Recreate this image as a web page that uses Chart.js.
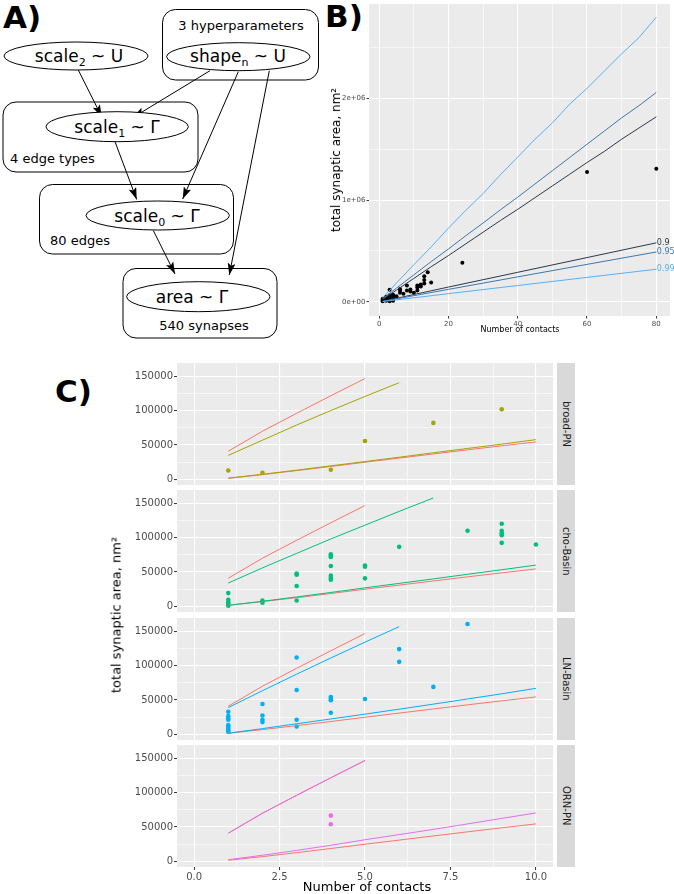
<!DOCTYPE html>
<html>
<head>
<meta charset="utf-8">
<script src="https://cdn.jsdelivr.net/npm/chart.js@4.4.0/dist/chart.umd.min.js"></script>
<style>
  body { margin: 0; background: #fff; }
  #page { position: relative; width: 674px; height: 894px; overflow: hidden; font-family: "DejaVu Sans", sans-serif; }
  .tag { position: absolute; font-weight: bold; font-size: 31px; line-height: 31px; }
  .strip { position: absolute; left: 557px; width: 18px; height: 122px; background: #d9d9d9; color: #1a1a1a;
           font-size: 10px; display: flex; align-items: center; justify-content: center; }
  .strip span { writing-mode: vertical-rl; white-space: nowrap; }
  .title { position: absolute; white-space: nowrap; color: #000; transform: translate(-50%, -50%); }
  .rot { transform: translate(-50%, -50%) rotate(-90deg); }
  canvas { position: absolute; }
</style>
</head>
<body>
<div id="page">

<!-- panel A: model diagram -->
<svg width="330" height="345" style="position:absolute;left:0;top:0" font-family="DejaVu Sans" fill="none" stroke="#000">
  <defs>
    <marker id="ah" markerWidth="12" markerHeight="8" refX="12" refY="4" orient="auto" markerUnits="userSpaceOnUse">
      <path d="M0,0 L12,4 L0,8 L2.5,4 z" fill="#000" stroke="none"/>
    </marker>
  </defs>
  <rect x="162.5" y="9.5" width="156" height="70.5" rx="13" stroke-width="1"/>
  <rect x="3" y="102" width="195" height="70" rx="13" stroke-width="1"/>
  <rect x="39.5" y="184.5" width="194" height="69.5" rx="13" stroke-width="1"/>
  <rect x="123" y="268.5" width="154" height="69.5" rx="13" stroke-width="1"/>

  <g stroke-width="1" marker-end="url(#ah)">
    <line x1="78.3" y1="70" x2="101.7" y2="116.7"/>
    <line x1="210" y1="70.7" x2="133.3" y2="117.3"/>
    <line x1="238.3" y1="71.7" x2="182.7" y2="199"/>
    <line x1="269.3" y1="70.7" x2="229.3" y2="275"/>
    <line x1="115" y1="141.7" x2="136.7" y2="199.5"/>
    <line x1="153.3" y1="230.5" x2="175" y2="274"/>
  </g>

  <g fill="#fff" stroke-width="1">
    <ellipse cx="76" cy="56" rx="72" ry="14"/>
    <ellipse cx="238.3" cy="56.7" rx="71.7" ry="14"/>
    <ellipse cx="117.2" cy="126.7" rx="71.2" ry="15"/>
    <ellipse cx="157.7" cy="215.5" rx="71.7" ry="14.5"/>
    <ellipse cx="198.3" cy="296.7" rx="71.7" ry="15"/>
  </g>

  <g fill="#000" stroke="none" font-size="17" text-anchor="middle">
    <text x="79" y="62">scale<tspan font-size="11" dy="4">2</tspan><tspan dy="-4"> ~ U</tspan></text>
    <text x="238" y="62">shape<tspan font-size="11" dy="4">n</tspan><tspan dy="-4"> ~ U</tspan></text>
    <text x="117" y="133">scale<tspan font-size="11" dy="4">1</tspan><tspan dy="-4"> ~ Γ</tspan></text>
    <text x="157" y="222">scale<tspan font-size="11" dy="4">0</tspan><tspan dy="-4"> ~ Γ</tspan></text>
    <text x="192" y="303">area ~ Γ</text>
  </g>
  <g fill="#000" stroke="none" font-size="13">
    <text x="241" y="30" text-anchor="middle">3 hyperparameters</text>
    <text x="10" y="163">4 edge types</text>
    <text x="50" y="245">80 edges</text>
    <text x="204" y="330" text-anchor="middle">540 synapses</text>
  </g>
</svg>

<div class="tag" style="left:3px;top:2px">A)</div>
<div class="tag" style="left:325px;top:1px">B)</div>
<div class="tag" style="left:55px;top:376px">C)</div>

<!-- panel B -->
<canvas id="cb" width="344" height="340" style="left:330px;top:0px"></canvas>
<div class="title rot" style="left:336px;top:160px;font-size:12px">total synaptic area, nm²</div>
<div class="title" style="left:520px;top:329px;font-size:8px">Number of contacts</div>

<!-- panel C -->
<canvas id="c0" width="457" height="142" style="left:100px;top:353px"></canvas>
<canvas id="c1" width="457" height="142" style="left:100px;top:480px"></canvas>
<canvas id="c2" width="457" height="142" style="left:100px;top:608px"></canvas>
<canvas id="c3" width="457" height="159" style="left:100px;top:735px"></canvas>
<div class="strip" style="top:363px"><span>broad-PN</span></div>
<div class="strip" style="top:490px"><span>cho-Basin</span></div>
<div class="strip" style="top:618px"><span>LN-Basin</span></div>
<div class="strip" style="top:745px"><span>ORN-PN</span></div>
<div class="title rot" style="left:116px;top:615px;font-size:13px">total synaptic area, nm²</div>
<div class="title" style="left:367px;top:886px;font-size:13px">Number of contacts</div>

</div>

<script>
// ---------- panel B data ----------
const bUpX  = [1, 5, 10, 15, 20, 25, 30, 35, 40, 45, 50, 55, 60, 65, 70, 75, 80];
const bUp99 = [40000, 185000, 365000, 540000, 725000, 900000, 1065000, 1250000, 1425000, 1600000, 1760000, 1945000, 2100000, 2270000, 2440000, 2600000, 2800000];
const bUp95 = [30000, 135000, 265000, 395000, 520000, 650000, 775000, 905000, 1030000, 1160000, 1290000, 1420000, 1550000, 1680000, 1810000, 1930000, 2060000];
const bUp90 = [25000, 115000, 230000, 345000, 455000, 570000, 685000, 800000, 910000, 1025000, 1140000, 1255000, 1370000, 1480000, 1600000, 1710000, 1820000];
const bLoX  = [1, 20, 40, 60, 80];
const bLo99 = [2500, 80000, 160000, 240000, 320000];
const bLo95 = [4000, 122000, 245000, 368000, 490000];
const bLo90 = [5000, 145000, 290000, 435000, 580000];
const bQuantiles = ['0.9', '0.95', '0.99'];
const bPtX = [1, 1, 1, 1, 2, 2, 2, 2, 3, 3, 3, 3, 3, 4, 4, 4, 4, 5, 6, 6, 6, 7, 8, 8, 9, 9, 10,
              11, 11, 11, 12, 12, 13, 13, 13, 14, 15, 24, 60, 80];
const bPtY = [5000, 12000, 20000, 30000, 10000, 25000, 40000, 50000, 5000, 30000, 50000, 65000, 118000,
              10000, 40000, 60000, 70000, 55000, 90000, 110000, 125000, 80000, 110000, 160000, 100000, 120000, 90000,
              110000, 140000, 160000, 150000, 170000, 180000, 215000, 250000, 290000, 190000, 385000, 1277000, 1310000];
const bXTicks = [0, 10, 20, 30, 40, 50, 60, 70, 80];
const bYTicks = [0, 500000, 1000000, 1500000, 2000000, 2500000];
const bYLabels = { 0: '0e+00', 1000000: '1e+06', 2000000: '2e+06' };

// ---------- panel C data ----------
const facets = ['broad-PN', 'cho-Basin', 'LN-Basin', 'ORN-PN'];
const contacts = [1, 2, 3, 4, 5, 6, 7, 8, 9, 10];
const cXTicks = [0, 1.25, 2.5, 3.75, 5, 6.25, 7.5, 8.75, 10];
const cYTicks = [0, 25000, 50000, 75000, 100000, 125000, 150000];

const refUp = [41000, 70000, 96000, 121500, 146500];
const refLo = [1800, 7000, 12800, 18800, 25000, 31000, 37000, 43000, 48800, 54500];

const broadUp = [35000, 57000, 79000, 100000, 120500, 140500];
const broadLo = [1800, 7500, 13500, 19800, 26000, 32300, 38700, 45000, 51300, 57800];
const choUp = [34000, 56000, 77000, 98000, 118000, 138000, 157500];
const choLo = [1600, 7500, 13800, 20300, 27000, 33500, 40000, 46700, 53300, 60000];
const lnUp = [39000, 63500, 87500, 111000, 134000, 156500];
const lnLo = [1800, 8500, 15500, 22500, 29500, 36700, 44000, 51500, 59000, 67000];
const ornUp = [41000, 70000, 96000, 121500, 146500];
const ornLo = [2500, 9000, 16000, 23500, 31500, 39000, 46500, 54500, 62500, 70400];

const broadX = [1, 2, 4, 5, 7, 9];
const broadY = [13100, 9800, 14100, 55900, 82100, 102000];
const choX = [1, 1, 1, 1, 1, 2, 2, 3, 3, 3, 3, 4, 4, 4, 4, 4, 4, 4, 5, 5, 5, 6, 8, 9, 9, 9, 9, 9, 10];
const choY = [19400, 9800, 6400, 4200, 1200, 8700, 5300, 47600, 46200, 29700, 8700,
              75800, 73400, 71900, 58800, 44700, 41800, 38900, 59300, 57800, 40800, 86500, 109800,
              120000, 109800, 106400, 103500, 92300, 89900];
const lnX = [1, 1, 1, 1, 1, 1, 1, 1, 1, 2, 2, 2, 2, 3, 3, 3, 3, 4, 4, 4, 4, 5, 6, 6, 7, 8];
const lnY = [32900, 26600, 23200, 21300, 13500, 11100, 8600, 6200, 3800, 44200, 27600, 21300, 17900,
             111700, 64600, 21300, 11600, 54400, 52000, 49600, 31600, 51500, 123900, 105400, 69000, 160300];
const ornX = [4, 4];
const ornY = [66600, 54000];

// ---------- styles ----------
const FONT = 'DejaVu Sans';
const qColors = ['#2a3a4a', '#3b78b0', '#56b1f7'];
const refColor = '#F8766D';
const facetColors = ['#A3A500', '#00BF7D', '#00B0F6', '#E76BF3'];

const pts = (xs, ys) => ys.map((y, i) => ({ x: xs[i], y: y }));
const line = (xs, ys, color) => ({
  data: pts(xs, ys), showLine: true, borderColor: color, borderWidth: 1,
  pointRadius: 0, fill: false, tension: 0
});
const dots = (xs, ys, color, r) => ({
  data: pts(xs, ys), showLine: false, backgroundColor: color, borderWidth: 0, pointRadius: r
});

const panelBg = {
  id: 'panelBg',
  beforeDraw(chart) {
    const { ctx, chartArea: a } = chart;
    ctx.save();
    ctx.fillStyle = '#EBEBEB';
    ctx.fillRect(a.left, a.top, a.right - a.left, a.bottom - a.top);
    ctx.restore();
  }
};

const quantLabels = {
  id: 'quantLabels',
  afterDatasetsDraw(chart) {
    const { ctx, scales: { x, y } } = chart;
    const ends = [bLo90, bLo95, bLo99];
    ctx.save();
    ctx.font = '8px "' + FONT + '"';
    ctx.textBaseline = 'middle';
    ctx.textAlign = 'left';
    bQuantiles.forEach((q, i) => {
      ctx.fillStyle = qColors[i];
      ctx.fillText(q, x.getPixelForValue(bLoX[bLoX.length - 1]) + 0.5, y.getPixelForValue(ends[i][ends[i].length - 1]));
    });
    ctx.restore();
  }
};

// ggplot-like axis: white major/minor grid, short dark ticks on major
function axis(min, max, ticks, isMajor, label, size, extent, tickLen, showLabels, vertical) {
  return {
    type: 'linear', min: min, max: max,
    afterBuildTicks: s => { s.ticks = ticks.map(v => ({ value: v })); },
    afterFit: s => {
      if (vertical) s.width = extent; else s.height = extent;
      s.paddingTop = 0; s.paddingBottom = 0; s.paddingLeft = 0; s.paddingRight = 0;
    },
    ticks: {
      display: showLabels, autoSkip: false, maxRotation: 0, padding: 1,
      color: '#4d4d4d', font: { family: FONT, size: size },
      callback: v => isMajor(v) ? label(v) : ''
    },
    grid: {
      color: '#ffffff',
      lineWidth: c => (c.tick && isMajor(c.tick.value)) ? 1.1 : 0.55,
      drawTicks: showLabels, tickLength: tickLen, tickWidth: 1,
      tickColor: c => (c.tick && isMajor(c.tick.value)) ? '#333333' : 'rgba(0,0,0,0)'
    },
    border: { display: false }
  };
}

const baseOpts = (padding, scales) => ({
  responsive: false, animation: false, events: [],
  layout: { padding: padding },
  plugins: { legend: { display: false }, tooltip: { enabled: false } },
  scales: scales
});

// ---------- panel B chart ----------
new Chart(document.getElementById('cb'), {
  type: 'scatter',
  data: {
    datasets: [
      line(bUpX, bUp99, qColors[2]), line(bLoX, bLo99, qColors[2]),
      line(bUpX, bUp95, qColors[1]), line(bLoX, bLo95, qColors[1]),
      line(bUpX, bUp90, qColors[0]), line(bLoX, bLo90, qColors[0]),
      dots(bPtX, bPtY, '#000000', 2)
    ]
  },
  options: baseOpts({ top: 3, right: 2, left: 0, bottom: 0 }, {
    x: axis(-2.95, 83.95, bXTicks, v => v % 20 === 0, v => String(v), 7, 24, 2.5, true, false),
    y: axis(-140000, 2930000, bYTicks, v => v % 1000000 === 0, v => bYLabels[v], 7, 39, 2.5, true, true)
  }),
  plugins: [panelBg, quantLabels]
});

// ---------- panel C charts ----------
const facetUp = [broadUp, choUp, lnUp, ornUp];
const facetLo = [broadLo, choLo, lnLo, ornLo];
const facetPX = [broadX, choX, lnX, ornX];
const facetPY = [broadY, choY, lnY, ornY];

facets.forEach((name, i) => {
  const last = i === facets.length - 1;
  const col = facetColors[i];
  new Chart(document.getElementById('c' + i), {
    type: 'scatter',
    data: {
      datasets: [
        line(contacts.slice(0, facetUp[i].length), facetUp[i], col),
        line(contacts.slice(0, facetLo[i].length), facetLo[i], col),
        line(contacts.slice(0, refUp.length), refUp, refColor),
        line(contacts.slice(0, refLo.length), refLo, refColor),
        dots(facetPX[i], facetPY[i], col, 2.3)
      ]
    },
    options: baseOpts({ top: 10, right: 0, left: 0, bottom: last ? 0 : 10 }, {
      x: axis(-0.5, 10.5, cXTicks, v => v % 2.5 === 0, v => v.toFixed(1), 10, last ? 27 : 0, 3, last, false),
      y: axis(-8050, 169050, cYTicks, v => v % 50000 === 0, v => String(v), 10, 77, 3, true, true)
    }),
    plugins: [panelBg]
  });
});
</script>
</body>
</html>
